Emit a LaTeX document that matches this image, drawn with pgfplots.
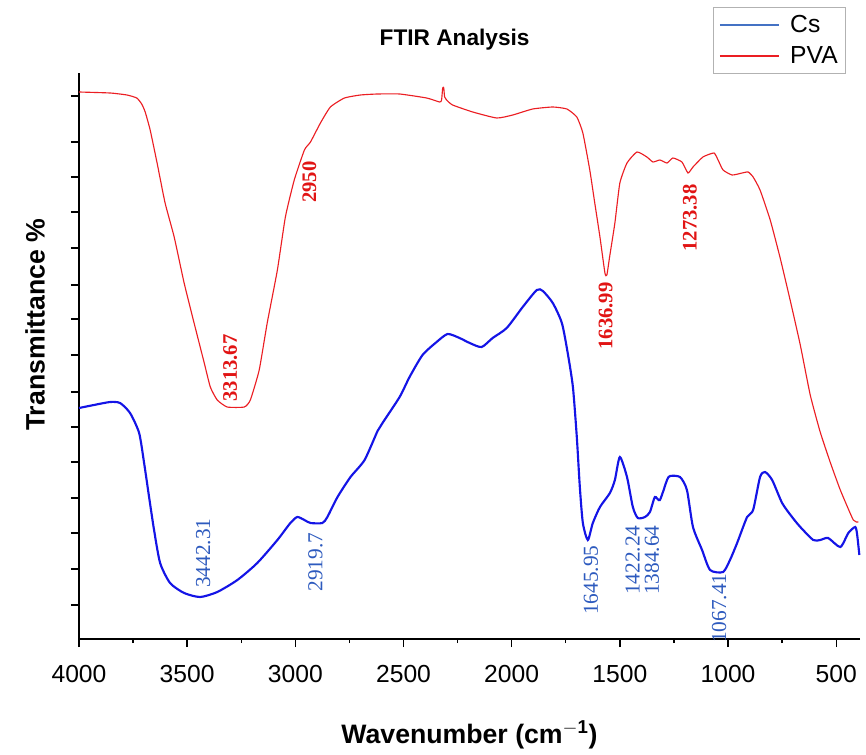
\documentclass[border=0pt]{standalone}
\usepackage{pgfplots}
\pgfplotsset{compat=1.18}
\usepackage{fontspec}
\setmainfont{Liberation Sans}
\newfontfamily\annfont{Liberation Serif}
\definecolor{pvared}{RGB}{235,30,35}
\definecolor{csblue}{RGB}{20,20,230}
\definecolor{annblue}{RGB}{45,90,190}
\definecolor{annred}{RGB}{225,20,20}
\definecolor{legblue}{RGB}{68,114,196}
\begin{document}
\begin{tikzpicture}
\path[use as bounding box] (-59.25pt,-86.25pt) rectangle (590.25pt,479.25pt);
\begin{axis}[
  scale only axis,
  width=585.75pt, height=424.5pt,
  x dir=reverse,
  xmin=390, xmax=4000,
  ymin=0, ymax=566,
  clip=false,
  axis x line*=bottom, axis y line*=left,
  x axis line style={-, line width=1.2pt},
  y axis line style={-, line width=1.2pt},
  xtick={500,1000,...,4000},
  minor x tick num=1,
  ytick={34,70,106,141,177,212,247,284,320,354,391,427,462,497,543},
  yticklabels={},
  tick align=outside,
  major tick length=6pt,
  minor tick length=3pt,
  every tick/.style={black, line width=1pt},
  /pgf/number format/1000 sep={},
  /pgf/number format/assume math mode=true,
  xticklabel style={font=\fontsize{18.5}{20}\selectfont, yshift=-10pt},
  xlabel={\textbf{Wavenumber (cm\textsuperscript{$-$1})}},
  xlabel style={font=\fontsize{20}{22}\selectfont, at={(axis description cs:0.5,-0.17)}, anchor=center},
  ylabel={\textbf{Transmittance \%}},
  ylabel style={font=\fontsize{20}{22}\selectfont, at={(axis description cs:-0.0563,0.555)}, anchor=center},
  title={\textbf{FTIR Analysis}},
  title style={font=\fontsize{17}{19}\selectfont, at={(axis description cs:0.481,1.045)}, anchor=center},
  legend style={at={(axis description cs:0.8118,1.1166)}, anchor=north west,
    draw=gray!60, line width=0.8pt,
    font=\fontsize{18.5}{20}\selectfont, row sep=5pt, inner xsep=4pt, inner ysep=4pt},
  legend cell align=left,
  legend image code/.code={\draw[#1] (0pt,0pt) -- (44pt,0pt); \path (50pt,0pt);},
]
\addplot[pvared, line width=0.85pt, smooth, tension=0.3, forget plot] coordinates {
(4000,547) (3856,546) (3778,544) (3733,541) (3710,535) (3694,527) (3671,509) (3639,476) (3602,436)
(3560,402) (3514,356) (3468,316) (3421,276) (3393,252) (3361,239) (3315,232) (3236,232)
(3208,239) (3167,269) (3130,316) (3083,369) (3046,422) (3005,459) (2958,489) (2930,497)
(2884,516) (2838,532) (2773,541) (2699,544) (2620,545) (2518,545) (2393,541) (2333,537)
(2324,539) (2319,551) (2314,551) (2310,542) (2301,539) (2273,534) (2180,527) (2069,521)
(1995,524) (1903,530) (1810,532) (1745,530) (1699,522) (1671,506) (1639,469) (1616,436)
(1592,402) (1569,366) (1560,364) (1546,384) (1523,416) (1500,456) (1467,476) (1421,487)
(1375,482) (1347,477) (1315,479) (1282,476) (1255,481) (1213,477) (1185,466) (1162,472)
(1116,482) (1065,486) (1046,479) (1023,469) (981,464) (935,466) (907,467) (884,462)
(852,449) (805,419) (759,381) (713,339) (666,294) (620,244) (574,207) (528,177)
(481,149) (421,119) (398,117)
};
\addplot[csblue, line width=1.6pt, smooth, tension=0.4, forget plot] coordinates {
(4000,231) (3931,234) (3856,237) (3810,236) (3764,226) (3722,206) (3699,176) (3676,142)
(3653,109) (3625,76) (3579,56) (3514,46) (3440,42) (3361,47) (3268,59) (3176,76)
(3083,99) (3023,116) (2991,122) (2958,119) (2930,116) (2875,116) (2852,122) (2805,142)
(2745,162) (2680,179) (2620,208) (2597,216) (2518,242) (2472,262) (2412,284) (2347,297)
(2296,305) (2241,301) (2194,296) (2139,292) (2088,301) (2023,311) (1949,332) (1884,349)
(1856,348) (1810,336) (1768,316) (1741,286) (1717,252) (1699,202) (1685,152) (1671,116)
(1648,99) (1625,116) (1592,132) (1546,146) (1523,159) (1500,182) (1467,162) (1440,132)
(1417,121) (1384,122) (1361,127) (1338,142) (1315,139) (1282,159) (1268,163) (1222,162)
(1190,149) (1162,112) (1120,89) (1083,69) (1023,67) (991,79) (958,96) (912,122)
(884,129) (852,162) (829,167) (796,159) (750,136) (704,122) (666,112) (606,99)
(574,99) (537,101) (481,92) (444,106) (412,112) (403,104) (393,84)
};
\addlegendimage{draw=legblue, line width=1.5pt}
\addlegendentry{Cs}
\addlegendimage{draw=pvared, line width=1.5pt}
\addlegendentry{PVA}
\begin{scope}[every node/.style={rotate=90, inner sep=0pt}]
\node[annred, font=\annfont\bfseries\fontsize{15.5}{17}\selectfont] at (axis cs:3301,271) {3313.67};
\node[annred, font=\annfont\bfseries\fontsize{15.5}{17}\selectfont] at (axis cs:2935,457) {2950};
\node[annred, font=\annfont\bfseries\fontsize{15.5}{17}\selectfont] at (axis cs:1565,323) {1636.99};
\node[annred, font=\annfont\bfseries\fontsize{15.5}{17}\selectfont] at (axis cs:1176,421) {1273.38};
\node[annblue, font=\annfont\fontsize{16}{18}\selectfont] at (axis cs:3426,86) {3442.31};
\node[annblue, font=\annfont\fontsize{16}{18}\selectfont] at (axis cs:2907,77) {2919.7};
\node[annblue, font=\annfont\fontsize{16}{18}\selectfont] at (axis cs:1634,59) {1645.95};
\node[annblue, font=\annfont\fontsize{16}{18}\selectfont] at (axis cs:1440,79) {1422.24};
\node[annblue, font=\annfont\fontsize{16}{18}\selectfont] at (axis cs:1352,79) {1384.64};
\node[annblue, font=\annfont\fontsize{16}{18}\selectfont] at (axis cs:1041,31) {1067.41};
\end{scope}
\end{axis}
\end{tikzpicture}
\end{document}
